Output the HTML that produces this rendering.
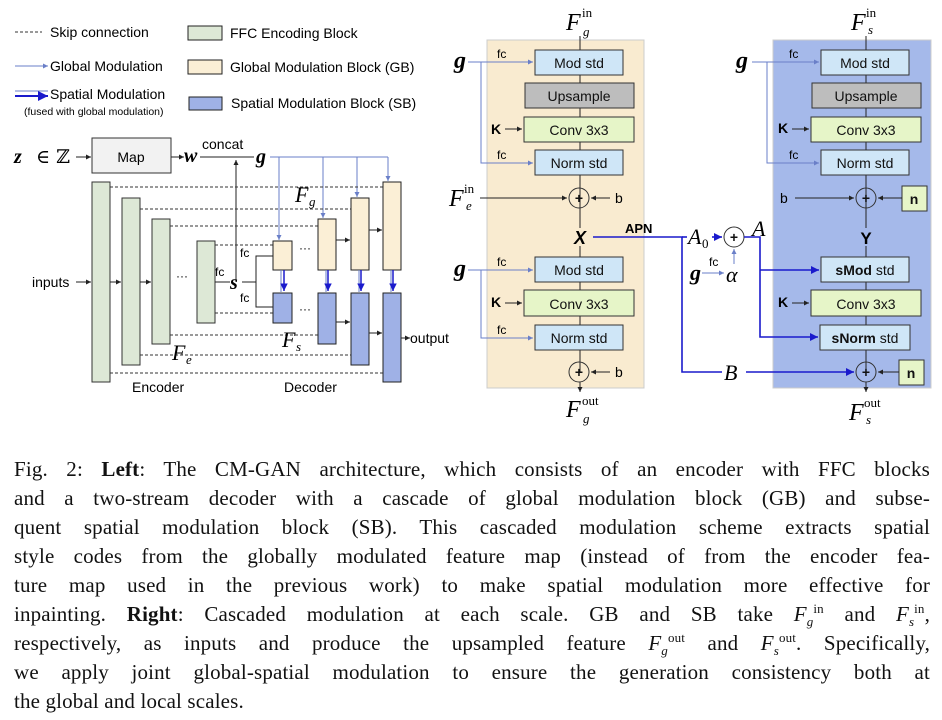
<!DOCTYPE html>
<html><head><meta charset="utf-8"><style>
body{margin:0;width:942px;height:720px;background:#fff;overflow:hidden;position:relative}
svg{position:absolute;left:0;top:0}
.cap{position:absolute;left:14px;width:916px;font-family:"Liberation Serif",serif;font-size:21px;letter-spacing:0.15px;color:#111;}
.cap div{height:29px;line-height:29px;text-align:justify;text-align-last:justify;white-space:nowrap}
.cap div.last{text-align-last:left}
sub,sup{font-size:13px;line-height:0}
i{font-style:italic}
</style></head><body>
<svg width="942" height="440" viewBox="0 0 942 440" font-family="Liberation Sans, sans-serif">
<defs>
<marker id="ak" markerWidth="6" markerHeight="6" refX="5" refY="3" orient="auto"><path d="M0,0.5L5,3L0,5.5z" fill="#222"/></marker>
<marker id="ag" markerWidth="6" markerHeight="6" refX="5" refY="3" orient="auto"><path d="M0,0.5L5,3L0,5.5z" fill="#6a7fc8"/></marker>
<marker id="ab" markerWidth="6" markerHeight="6" refX="5" refY="3" orient="auto"><path d="M0,0.5L5,3L0,5.5z" fill="#1a1acc"/></marker>
</defs>
<line x1="15" y1="32" x2="42" y2="32" stroke="#333" stroke-dasharray="3,2"/>
<text x="50" y="37" font-size="14">Skip connection</text>
<rect x="188" y="26" width="34" height="14" fill="#dde8d6" stroke="#222"/>
<text x="230" y="38" font-size="14">FFC Encoding Block</text>
<line x1="15" y1="66" x2="48" y2="66" stroke="#6a7fc8" marker-end="url(#ag)"/>
<text x="50" y="71" font-size="14">Global Modulation</text>
<rect x="188" y="60" width="34" height="14" fill="#fbefd6" stroke="#222"/>
<text x="230" y="72" font-size="14">Global Modulation Block (GB)</text>
<line x1="15" y1="91" x2="48" y2="91" stroke="#6a7fc8"/>
<line x1="15" y1="96" x2="48" y2="96" stroke="#1a1acc" stroke-width="2" marker-end="url(#ab)"/>
<text x="50" y="99" font-size="14">Spatial Modulation</text>
<text x="24" y="115" font-size="10.5">(fused with global modulation)</text>
<rect x="189" y="97" width="33" height="13" fill="#9fb1e6" stroke="#222"/>
<text x="231" y="108" font-size="14">Spatial Modulation Block (SB)</text>
<text x="14" y="163" font-size="20" font-family="Liberation Serif, serif" font-style="italic" font-weight="bold">z</text>
<text x="36" y="163" font-size="19" font-family="DejaVu Serif, serif">∈ ℤ</text>
<line x1="76" y1="157" x2="91" y2="157" stroke="#222" marker-end="url(#ak)"/>
<rect x="92" y="138" width="79" height="35" fill="#f2f2f2" stroke="#333"/>
<text x="131" y="162" font-size="14" text-anchor="middle">Map</text>
<line x1="171" y1="157" x2="184" y2="157" stroke="#222" marker-end="url(#ak)"/>
<text x="184" y="162" font-size="20" font-family="Liberation Serif, serif" font-style="italic" font-weight="bold">w</text>
<text x="202" y="149" font-size="14">concat</text>
<line x1="200" y1="157" x2="254" y2="157" stroke="#222"/>
<line x1="236" y1="282" x2="236" y2="160" stroke="#222" marker-end="url(#ak)"/>
<text x="256" y="163" font-size="20" font-family="Liberation Serif, serif" font-style="italic" font-weight="bold">g</text>
<polyline points="270,157 388,157" fill="none" stroke="#6a7fc8"/>
<line x1="279" y1="157" x2="279" y2="240" stroke="#6a7fc8" marker-end="url(#ag)"/>
<line x1="323" y1="157" x2="323" y2="218" stroke="#6a7fc8" marker-end="url(#ag)"/>
<line x1="357" y1="157" x2="357" y2="197" stroke="#6a7fc8" marker-end="url(#ag)"/>
<line x1="388" y1="157" x2="388" y2="181" stroke="#6a7fc8" marker-end="url(#ag)"/>
<g stroke="#333" stroke-dasharray="3,2">
<line x1="110" y1="187" x2="383" y2="187"/><line x1="140" y1="209" x2="351" y2="209"/>
<line x1="170" y1="226" x2="318" y2="226"/><line x1="215" y1="245" x2="273" y2="245"/>
<line x1="215" y1="313" x2="273" y2="313"/><line x1="170" y1="335" x2="318" y2="335"/>
<line x1="140" y1="355" x2="351" y2="355"/><line x1="110" y1="373" x2="383" y2="373"/>
</g>
<g fill="#dde8d6" stroke="#333">
<rect x="92" y="182" width="18" height="200"/><rect x="122" y="198" width="18" height="167"/>
<rect x="152" y="219" width="18" height="125"/><rect x="197" y="241" width="18" height="82"/>
</g>
<text x="32" y="287" font-size="14">inputs</text>
<line x1="76" y1="282" x2="91" y2="282" stroke="#222" marker-end="url(#ak)"/>
<line x1="110" y1="282" x2="121" y2="282" stroke="#222" marker-end="url(#ak)"/>
<line x1="140" y1="282" x2="151" y2="282" stroke="#222" marker-end="url(#ak)"/>
<text x="176" y="280" font-size="12">···</text>
<text x="215" y="276" font-size="12">fc</text>
<line x1="215" y1="282" x2="230" y2="282" stroke="#222"/>
<text x="230" y="289" font-size="20" font-family="Liberation Serif, serif" font-style="italic" font-weight="bold">s</text>
<polyline points="242,282 256,282" stroke="#222" fill="none"/>
<polyline points="273,256 256,256 256,307 273,307" stroke="#222" fill="none"/>
<text x="240" y="257" font-size="12">fc</text><text x="240" y="302" font-size="12">fc</text>
<g fill="#fbefd6" stroke="#222">
<rect x="273" y="241" width="19" height="29"/><rect x="318" y="219" width="18" height="51"/>
<rect x="351" y="198" width="18" height="72"/><rect x="383" y="182" width="18" height="88"/>
</g>
<g fill="#9fb1e6" stroke="#222">
<rect x="273" y="293" width="19" height="30"/><rect x="318" y="293" width="18" height="51"/>
<rect x="351" y="293" width="18" height="72"/><rect x="383" y="293" width="18" height="89"/>
</g>
<g stroke="#6a7fc8"><line x1="281" y1="270" x2="281" y2="292"/><line x1="326" y1="270" x2="326" y2="292"/><line x1="359" y1="270" x2="359" y2="292"/><line x1="391" y1="270" x2="391" y2="292"/></g>
<g stroke="#1a1acc" stroke-width="1.5"><line x1="284" y1="270" x2="284" y2="291" marker-end="url(#ab)"/><line x1="328" y1="270" x2="328" y2="291" marker-end="url(#ab)"/><line x1="361" y1="270" x2="361" y2="291" marker-end="url(#ab)"/><line x1="393" y1="270" x2="393" y2="291" marker-end="url(#ab)"/></g>
<text x="299" y="252" font-size="12">···</text><text x="299" y="313" font-size="12">···</text>
<line x1="336" y1="240" x2="350" y2="240" stroke="#222" marker-end="url(#ak)"/>
<line x1="369" y1="230" x2="382" y2="230" stroke="#222" marker-end="url(#ak)"/>
<line x1="336" y1="322" x2="350" y2="322" stroke="#222" marker-end="url(#ak)"/>
<line x1="369" y1="333" x2="382" y2="333" stroke="#222" marker-end="url(#ak)"/>
<line x1="401" y1="338" x2="410" y2="338" stroke="#222" marker-end="url(#ak)"/>
<text x="410" y="343" font-size="14">output</text>
<g font-family="Liberation Serif, serif" font-style="italic">
<text x="295" y="202" font-size="22">F</text><text x="309" y="206" font-size="13">g</text>
<text x="172" y="360" font-size="22">F</text><text x="186" y="364" font-size="13">e</text>
<text x="282" y="347" font-size="22">F</text><text x="296" y="351" font-size="13">s</text>
</g>
<text x="132" y="392" font-size="14">Encoder</text><text x="284" y="392" font-size="14">Decoder</text>
<rect x="487" y="40" width="157" height="348" fill="#f9ebd0" stroke="#ccc"/>
<rect x="773" y="40" width="158" height="348" fill="#a5b9ea" stroke="#ccc"/>
<line x1="580" y1="36" x2="580" y2="372" stroke="#222"/>
<line x1="866" y1="36" x2="866" y2="372" stroke="#222"/>
<line x1="580" y1="382" x2="580" y2="392" stroke="#222" marker-end="url(#ak)"/>
<line x1="866" y1="382" x2="866" y2="392" stroke="#222" marker-end="url(#ak)"/>
<g stroke="#333" font-size="14">
<rect x="535" y="50" width="88" height="25" fill="#cfe6f7"/><rect x="525" y="83" width="109" height="25" fill="#bdbdbd"/>
<rect x="524" y="117" width="110" height="25" fill="#e6f5c8"/><rect x="535" y="150" width="88" height="25" fill="#cfe6f7"/>
<rect x="535" y="257" width="88" height="25" fill="#cfe6f7"/><rect x="524" y="290" width="110" height="26" fill="#e6f5c8"/>
<rect x="535" y="325" width="88" height="25" fill="#cfe6f7"/>
<rect x="821" y="50" width="88" height="25" fill="#cfe6f7"/><rect x="812" y="83" width="109" height="25" fill="#bdbdbd"/>
<rect x="811" y="117" width="110" height="25" fill="#e6f5c8"/><rect x="821" y="150" width="88" height="25" fill="#cfe6f7"/>
<rect x="821" y="257" width="88" height="25" fill="#cfe6f7"/><rect x="811" y="290" width="110" height="26" fill="#e6f5c8"/>
<rect x="820" y="325" width="90" height="25" fill="#cfe6f7"/>
<rect x="902" y="186" width="25" height="25" fill="#e6f5c8"/><rect x="899" y="360" width="25" height="25" fill="#e6f5c8"/>
<circle cx="579" cy="198" r="10" fill="none"/><circle cx="579" cy="372" r="10" fill="none"/>
<circle cx="866" cy="198" r="10" fill="none"/><circle cx="866" cy="372" r="10" fill="none"/>
<circle cx="734" cy="237" r="10" fill="#fff"/>
</g>
<g font-size="14" text-anchor="middle" fill="#111">
<text x="579" y="68">Mod std</text><text x="579" y="101">Upsample</text><text x="579" y="135">Conv 3x3</text><text x="579" y="168">Norm std</text>
<text x="579" y="275">Mod std</text><text x="579" y="309">Conv 3x3</text><text x="579" y="343">Norm std</text>
<text x="865" y="68">Mod std</text><text x="866" y="101">Upsample</text><text x="866" y="135">Conv 3x3</text><text x="865" y="168">Norm std</text>
<text x="865" y="275"><tspan font-weight="bold">sMod</tspan> std</text><text x="866" y="309">Conv 3x3</text><text x="865" y="343"><tspan font-weight="bold">sNorm</tspan> std</text>
<text x="914" y="204" font-weight="bold">n</text><text x="911" y="378" font-weight="bold">n</text>
<text x="579" y="203" font-weight="bold">+</text><text x="579" y="377" font-weight="bold">+</text>
<text x="866" y="203" font-weight="bold">+</text><text x="866" y="377" font-weight="bold">+</text>
<text x="734" y="242" font-weight="bold">+</text>
</g>
<rect x="572" y="228" width="16" height="18" fill="#f9ebd0"/><rect x="858" y="228" width="16" height="18" fill="#a5b9ea"/>
<text x="580" y="244" font-size="18" font-weight="bold" font-style="italic" text-anchor="middle">X</text>
<text x="866" y="244" font-size="17" font-weight="bold" text-anchor="middle">Y</text>
<g font-family="Liberation Serif, serif" font-style="italic" font-weight="bold" font-size="24">
<text x="454" y="68">g</text><text x="454" y="276">g</text><text x="736" y="68">g</text><text x="690" y="280" font-size="22">g</text>
</g>
<g stroke="#6a7fc8" fill="none">
<line x1="468" y1="62" x2="533" y2="62" marker-end="url(#ag)"/><polyline points="481,62 481,163 533,163" marker-end="url(#ag)"/>
<line x1="468" y1="270" x2="533" y2="270" marker-end="url(#ag)"/><polyline points="481,270 481,338 533,338" marker-end="url(#ag)"/>
<line x1="752" y1="62" x2="819" y2="62" marker-end="url(#ag)"/><polyline points="767,62 767,163 819,163" marker-end="url(#ag)"/>
<line x1="702" y1="273" x2="724" y2="273" marker-end="url(#ag)"/><line x1="734" y1="264" x2="734" y2="249" marker-end="url(#ag)"/>
</g>
<g font-size="12"><text x="497" y="58">fc</text><text x="497" y="159">fc</text><text x="497" y="266">fc</text><text x="497" y="334">fc</text>
<text x="789" y="58">fc</text><text x="789" y="159">fc</text><text x="709" y="266">fc</text></g>
<g font-size="14" font-weight="bold"><text x="491" y="134">K</text><text x="491" y="307">K</text><text x="778" y="133">K</text><text x="778" y="307">K</text></g>
<g stroke="#222"><line x1="505" y1="129" x2="522" y2="129" marker-end="url(#ak)"/><line x1="505" y1="303" x2="522" y2="303" marker-end="url(#ak)"/>
<line x1="792" y1="129" x2="809" y2="129" marker-end="url(#ak)"/><line x1="792" y1="303" x2="809" y2="303" marker-end="url(#ak)"/>
<line x1="480" y1="198" x2="567" y2="198" marker-end="url(#ak)"/><line x1="610" y1="198" x2="591" y2="198" marker-end="url(#ak)"/>
<line x1="610" y1="372" x2="591" y2="372" marker-end="url(#ak)"/><line x1="795" y1="198" x2="854" y2="198" marker-end="url(#ak)"/>
<line x1="902" y1="198" x2="878" y2="198" marker-end="url(#ak)"/><line x1="899" y1="372" x2="878" y2="372" marker-end="url(#ak)"/></g>
<g font-size="14"><text x="615" y="203">b</text><text x="615" y="377">b</text><text x="780" y="203">b</text></g>
<text x="625" y="233" font-size="13" font-weight="bold">APN</text>
<g font-family="Liberation Serif, serif" font-style="italic">
<text x="449" y="206" font-size="24">F</text><text x="464" y="193" font-size="13" font-style="normal">in</text><text x="466" y="210" font-size="13">e</text>
<text x="566" y="30" font-size="24">F</text><text x="582" y="17" font-size="13" font-style="normal">in</text><text x="583" y="36" font-size="13">g</text>
<text x="566" y="417" font-size="24">F</text><text x="582" y="405" font-size="13" font-style="normal">out</text><text x="583" y="423" font-size="13">g</text>
<text x="851" y="30" font-size="24">F</text><text x="866" y="17" font-size="13" font-style="normal">in</text><text x="868" y="34" font-size="13">s</text>
<text x="849" y="420" font-size="24">F</text><text x="864" y="407" font-size="13" font-style="normal">out</text><text x="866" y="424" font-size="13">s</text>
<text x="688" y="244" font-size="22">A</text><text x="702" y="248" font-size="13" font-style="normal">0</text>
<text x="752" y="236" font-size="22">A</text><text x="726" y="282" font-size="22">α</text>
<text x="724" y="380" font-size="22">B</text>
</g>
<g stroke="#1a1acc" stroke-width="1.6" fill="none">
<polyline points="593,237 682,237 682,372 722,372"/><line x1="682" y1="237" x2="687" y2="237"/>
<line x1="712" y1="237" x2="722" y2="237" marker-end="url(#ab)"/>
<polyline points="744,237 760,237 760,337 818,337" marker-end="url(#ab)"/>
<line x1="760" y1="270" x2="819" y2="270" marker-end="url(#ab)"/>
<line x1="746" y1="372" x2="854" y2="372" marker-end="url(#ab)"/>
</g>
</svg>
<div class="cap" style="top:455px">
<div>Fig. 2: <b>Left</b>: The CM-GAN architecture, which consists of an encoder with FFC blocks</div>
<div>and a two-stream decoder with a cascade of global modulation block (GB) and subse-</div>
<div>quent spatial modulation block (SB). This cascaded modulation scheme extracts spatial</div>
<div>style codes from the globally modulated feature map (instead of from the encoder fea-</div>
<div>ture map used in the previous work) to make spatial modulation more effective for</div>
<div>inpainting. <b>Right</b>: Cascaded modulation at each scale. GB and SB take <i>F</i><sub><i>g</i></sub><sup>in</sup> and <i>F</i><sub><i>s</i></sub><sup>in</sup>,</div>
<div>respectively, as inputs and produce the upsampled feature <i>F</i><sub><i>g</i></sub><sup>out</sup> and <i>F</i><sub><i>s</i></sub><sup>out</sup>. Specifically,</div>
<div>we apply joint global-spatial modulation to ensure the generation consistency both at</div>
<div class="last">the global and local scales.</div>
</div>
</body></html>
